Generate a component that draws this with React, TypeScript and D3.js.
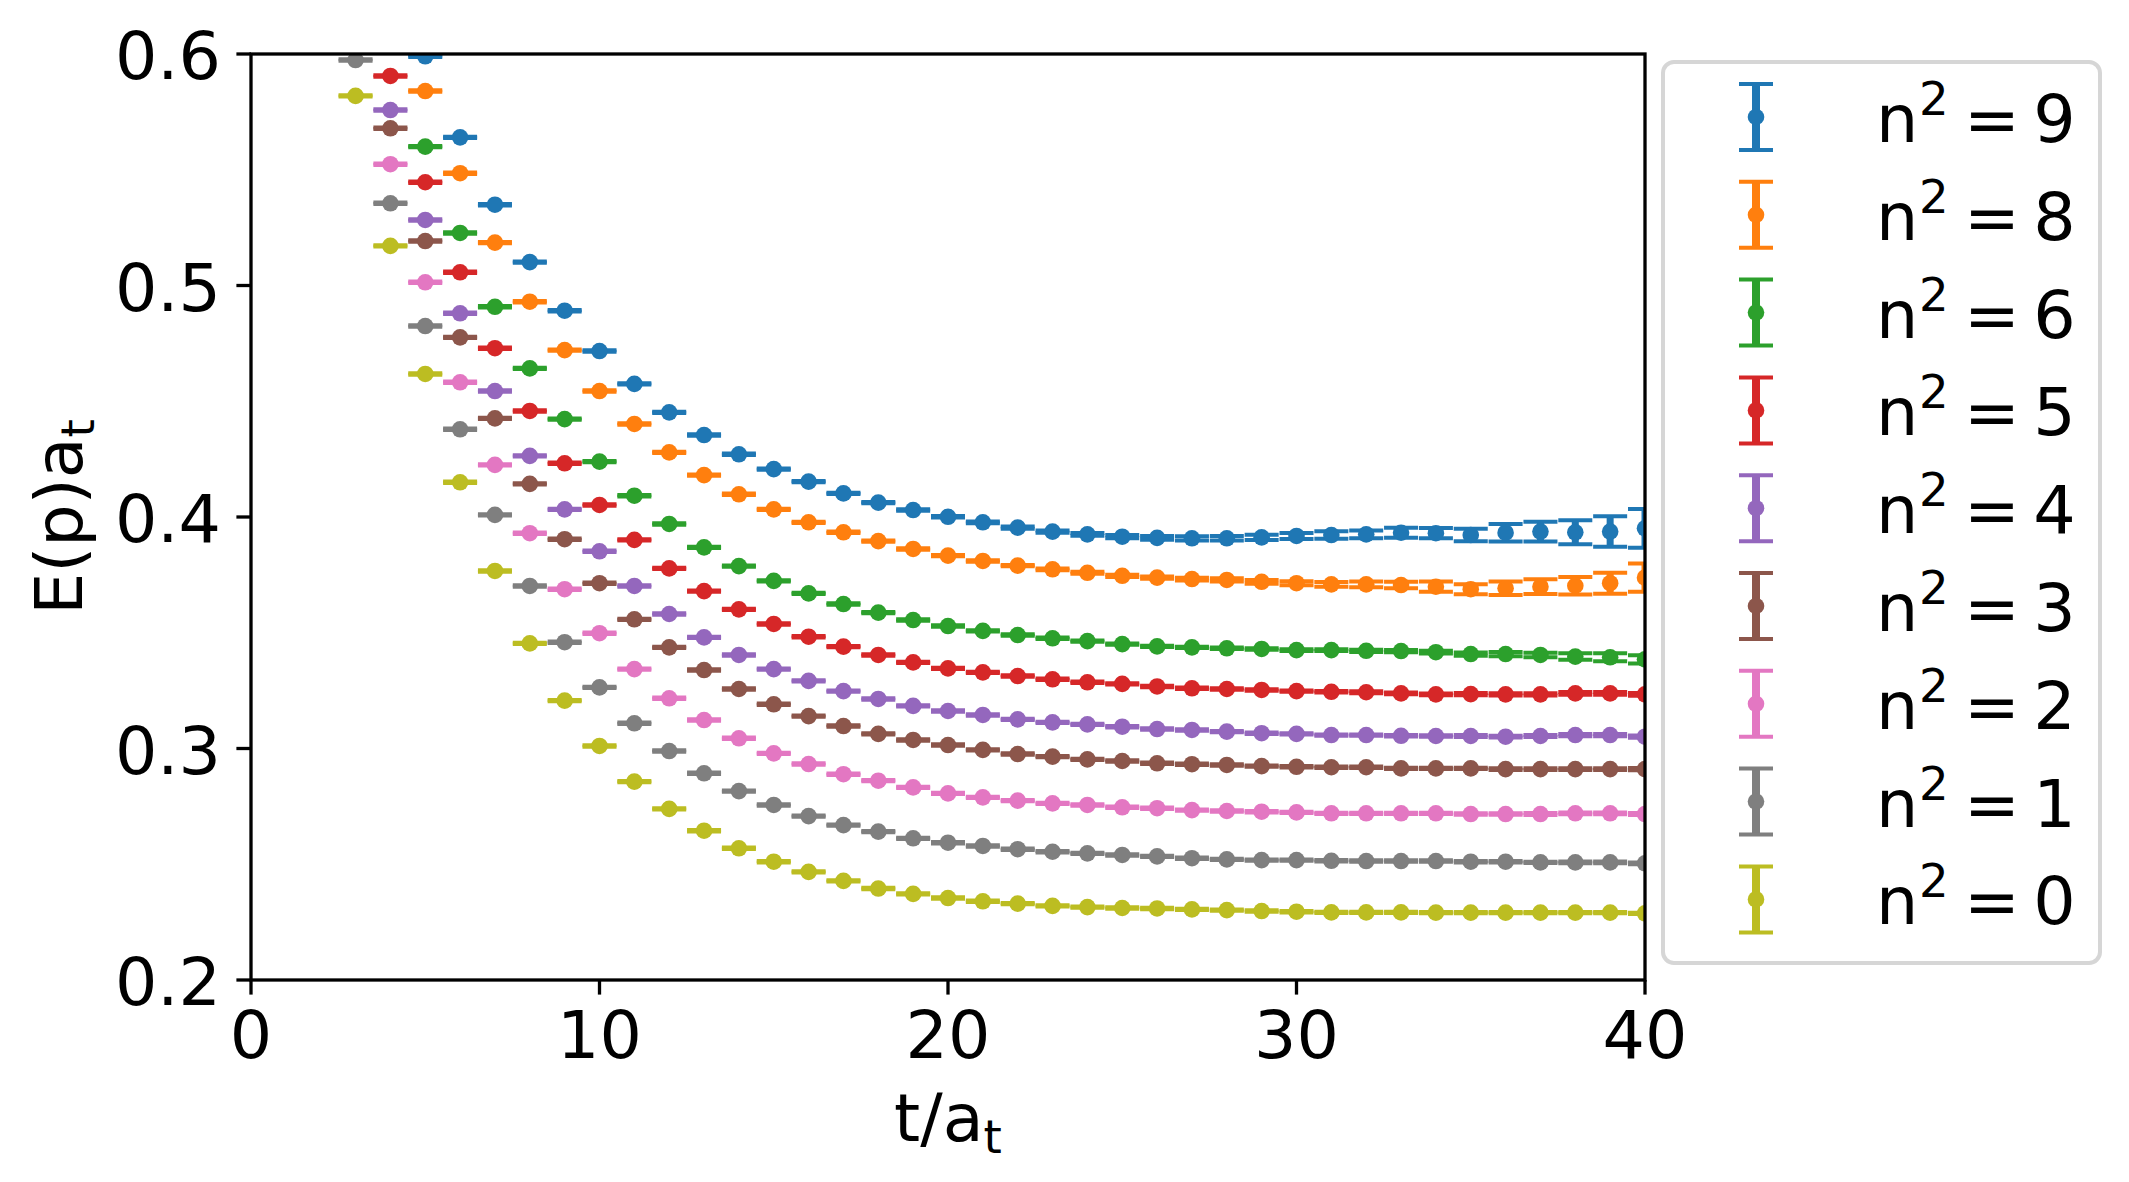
import React from 'react';
import * as d3 from 'd3';

const WIDTH = 2129;
const HEIGHT = 1182;

// legend order, n^2 values
const labels = ['9', '8', '6', '5', '4', '3', '2', '1', '0'];
const colors = ['#1f77b4', '#ff7f0e', '#2ca02c', '#d62728', '#9467bd', '#8c564b', '#e377c2', '#7f7f7f', '#bcbd22'];
// first visible time slice of each series
const firstT = [5, 5, 5, 4, 4, 4, 4, 3, 3];

const n9 = [
  0.599, 0.564, 0.5349, 0.5101, 0.4891, 0.4717, 0.4575, 0.4452, 0.4354, 0.4271,
  0.4207, 0.4153, 0.4102, 0.4062, 0.403, 0.4001, 0.3977, 0.3954, 0.3937, 0.3925,
  0.3915, 0.391, 0.3908, 0.3908, 0.3912, 0.3918, 0.3922, 0.3925, 0.3932, 0.393,
  0.3922, 0.3932, 0.3937, 0.3934, 0.3937, 0.3951,
];
const n9Err = [
  0.0003, 0.0003, 0.0003, 0.0003, 0.0003, 0.0003, 0.0003, 0.0003, 0.0003, 0.0003,
  0.0003, 0.0003, 0.0003, 0.0003, 0.0003, 0.0003, 0.0004, 0.0005, 0.0005, 0.0006,
  0.0007, 0.0008, 0.0009, 0.001, 0.0011, 0.0013, 0.0016, 0.0017, 0.0022, 0.0022,
  0.0027, 0.0038, 0.0043, 0.0052, 0.0066, 0.0084,
];

const n8 = [
  0.584, 0.5485, 0.5185, 0.493, 0.4721, 0.4544, 0.4402, 0.4279, 0.4181, 0.4098,
  0.4033, 0.3977, 0.3934, 0.3896, 0.3862, 0.3833, 0.381, 0.379, 0.3774, 0.3759,
  0.3746, 0.3738, 0.3732, 0.3728, 0.372, 0.3714, 0.3709, 0.3709, 0.3706, 0.3699,
  0.3688, 0.3692, 0.3699, 0.3703, 0.3714, 0.3738,
];
const n8Err = [
  0.0003, 0.0003, 0.0003, 0.0003, 0.0003, 0.0003, 0.0003, 0.0003, 0.0003, 0.0003,
  0.0003, 0.0003, 0.0003, 0.0003, 0.0003, 0.0003, 0.0003, 0.0003, 0.0004, 0.0004,
  0.0005, 0.0005, 0.0006, 0.0007, 0.0008, 0.0009, 0.001, 0.0012, 0.0014, 0.0022,
  0.0022, 0.0029, 0.0032, 0.0038, 0.0045, 0.0061,
];

const n6 = [
  0.56, 0.5227, 0.4908, 0.4642, 0.4423, 0.4239, 0.4092, 0.397, 0.3869, 0.3788,
  0.3724, 0.367, 0.3624, 0.3587, 0.3555, 0.3529, 0.3508, 0.349, 0.3476, 0.3464,
  0.3451, 0.3441, 0.3437, 0.3433, 0.343, 0.3425, 0.3425, 0.3422, 0.3421, 0.3416,
  0.3408, 0.3408, 0.3404, 0.3397, 0.3394, 0.3385,
];
const n6Err = [
  0.0003, 0.0003, 0.0003, 0.0003, 0.0003, 0.0003, 0.0003, 0.0003, 0.0003, 0.0003,
  0.0003, 0.0003, 0.0003, 0.0003, 0.0003, 0.0003, 0.0003, 0.0003, 0.0003, 0.0003,
  0.0003, 0.0003, 0.0003, 0.0003, 0.0003, 0.0004, 0.0004, 0.0005, 0.0005, 0.0006,
  0.0007, 0.0009, 0.001, 0.0014, 0.0017, 0.0018,
];

const n5 = [
  0.5905, 0.5446, 0.5057, 0.4729, 0.4458, 0.4232, 0.4052, 0.3901, 0.3778, 0.368,
  0.3601, 0.3538, 0.3483, 0.344, 0.3404, 0.3372, 0.3346, 0.3329, 0.3313, 0.3299,
  0.3286, 0.3279, 0.3268, 0.326, 0.3257, 0.3253, 0.3248, 0.3245, 0.3243, 0.3238,
  0.3234, 0.3235, 0.3234, 0.3234, 0.3238, 0.3238, 0.3234,
];
const n5Err = [
  0.0003, 0.0003, 0.0003, 0.0003, 0.0003, 0.0003, 0.0003, 0.0003, 0.0003, 0.0003,
  0.0003, 0.0003, 0.0003, 0.0003, 0.0003, 0.0003, 0.0003, 0.0003, 0.0003, 0.0003,
  0.0003, 0.0003, 0.0003, 0.0003, 0.0003, 0.0003, 0.0003, 0.0003, 0.0004, 0.0004,
  0.0004, 0.0005, 0.0005, 0.0005, 0.0006, 0.0006, 0.0006,
];

const n4 = [
  0.5758, 0.5283, 0.488, 0.4544, 0.4264, 0.4033, 0.3852, 0.3702, 0.3581, 0.348,
  0.3404, 0.3343, 0.3292, 0.3248, 0.3214, 0.3184, 0.3162, 0.3145, 0.3126, 0.3113,
  0.3104, 0.3094, 0.3084, 0.308, 0.3073, 0.3066, 0.3063, 0.3058, 0.3058, 0.3055,
  0.3054, 0.3054, 0.3051, 0.3054, 0.3058, 0.3058, 0.3051,
];
const n4Err = [
  0.0003, 0.0003, 0.0003, 0.0003, 0.0003, 0.0003, 0.0003, 0.0003, 0.0003, 0.0003,
  0.0003, 0.0003, 0.0003, 0.0003, 0.0003, 0.0003, 0.0003, 0.0003, 0.0003, 0.0003,
  0.0003, 0.0003, 0.0003, 0.0003, 0.0003, 0.0003, 0.0003, 0.0003, 0.0003, 0.0003,
  0.0003, 0.0004, 0.0004, 0.0004, 0.0005, 0.0005, 0.0005,
];

const n3 = [
  0.5679, 0.5192, 0.4776, 0.4426, 0.4143, 0.3904, 0.3714, 0.3558, 0.3437, 0.3339,
  0.3257, 0.3191, 0.314, 0.3097, 0.3063, 0.3037, 0.3015, 0.2994, 0.2976, 0.2965,
  0.2953, 0.2946, 0.2936, 0.2932, 0.2929, 0.2924, 0.2921, 0.2919, 0.2919, 0.2914,
  0.2914, 0.2914, 0.2911, 0.2911, 0.2911, 0.2911, 0.2911,
];
const n3Err = [
  0.0003, 0.0003, 0.0003, 0.0003, 0.0003, 0.0003, 0.0003, 0.0003, 0.0003, 0.0003,
  0.0003, 0.0003, 0.0003, 0.0003, 0.0003, 0.0003, 0.0003, 0.0003, 0.0003, 0.0003,
  0.0003, 0.0003, 0.0003, 0.0003, 0.0003, 0.0003, 0.0003, 0.0003, 0.0003, 0.0003,
  0.0003, 0.0003, 0.0004, 0.0004, 0.0004, 0.0004, 0.0005,
];

const n2 = [
  0.5524, 0.5014, 0.4582, 0.4225, 0.393, 0.3688, 0.3498, 0.3343, 0.3217, 0.3123,
  0.3044, 0.2979, 0.2933, 0.2889, 0.2861, 0.2832, 0.2806, 0.2789, 0.2775, 0.2763,
  0.2756, 0.2746, 0.2742, 0.2734, 0.273, 0.2727, 0.2724, 0.272, 0.272, 0.272,
  0.272, 0.2717, 0.2717, 0.2717, 0.272, 0.272, 0.2717,
];
const n2Err = [
  0.0003, 0.0003, 0.0003, 0.0003, 0.0003, 0.0003, 0.0003, 0.0003, 0.0003, 0.0003,
  0.0003, 0.0003, 0.0003, 0.0003, 0.0003, 0.0003, 0.0003, 0.0003, 0.0003, 0.0003,
  0.0003, 0.0003, 0.0003, 0.0003, 0.0003, 0.0003, 0.0003, 0.0003, 0.0003, 0.0003,
  0.0003, 0.0003, 0.0003, 0.0004, 0.0004, 0.0004, 0.0004,
];

const n1 = [
  0.5974, 0.5355, 0.4825, 0.4379, 0.4009, 0.3702, 0.3459, 0.3264, 0.3109, 0.2989,
  0.2893, 0.2816, 0.2756, 0.2708, 0.2669, 0.2641, 0.2612, 0.2593, 0.2579, 0.2565,
  0.2554, 0.2547, 0.254, 0.2534, 0.2526, 0.2521, 0.2518, 0.2518, 0.2515, 0.2514,
  0.2514, 0.2514, 0.2511, 0.2511, 0.2508, 0.2508, 0.2508, 0.2504,
];
const n1Err = [
  0.0003, 0.0003, 0.0003, 0.0003, 0.0003, 0.0003, 0.0003, 0.0003, 0.0003, 0.0003,
  0.0003, 0.0003, 0.0003, 0.0003, 0.0003, 0.0003, 0.0003, 0.0003, 0.0003, 0.0003,
  0.0003, 0.0003, 0.0003, 0.0003, 0.0003, 0.0003, 0.0003, 0.0003, 0.0003, 0.0003,
  0.0003, 0.0003, 0.0003, 0.0003, 0.0003, 0.0004, 0.0004, 0.0004,
];

const n0 = [
  0.5819, 0.5171, 0.4618, 0.415, 0.3767, 0.3454, 0.3207, 0.3011, 0.2857, 0.2739,
  0.2645, 0.2569, 0.2511, 0.2467, 0.2428, 0.2395, 0.2372, 0.2354, 0.234, 0.233,
  0.232, 0.2315, 0.2311, 0.2309, 0.2305, 0.2302, 0.2298, 0.2295, 0.2292, 0.2292,
  0.2292, 0.2291, 0.2291, 0.2291, 0.2291, 0.2291, 0.2291, 0.2288,
];
const n0Err = [
  0.0003, 0.0003, 0.0003, 0.0003, 0.0003, 0.0003, 0.0003, 0.0003, 0.0003, 0.0003,
  0.0003, 0.0003, 0.0003, 0.0003, 0.0003, 0.0003, 0.0003, 0.0003, 0.0003, 0.0003,
  0.0003, 0.0003, 0.0003, 0.0003, 0.0003, 0.0003, 0.0003, 0.0003, 0.0003, 0.0003,
  0.0003, 0.0003, 0.0003, 0.0003, 0.0003, 0.0003, 0.0003, 0.0003,
];

const seriesValues = [n9, n8, n6, n5, n4, n3, n2, n1, n0];
const seriesErrors = [n9Err, n8Err, n6Err, n5Err, n4Err, n3Err, n2Err, n1Err, n0Err];

const xTicks = [0, 10, 20, 30, 40];
const yTicks = [0.2, 0.3, 0.4, 0.5, 0.6];
const yTickLabels = ['0.2', '0.3', '0.4', '0.5', '0.6'];

const FONT = '"DejaVu Sans", sans-serif';
const FS = 66.7;

export default function App() {
  const left = 251, right = 1645, top = 54, bottom = 980;
  const x = d3.scaleLinear().domain([0, 40]).range([left, right]);
  const y = d3.scaleLinear().domain([0.2, 0.6]).range([bottom, top]);

  const capHalf = 17;
  const markerR = 8.3;

  const legendX = 1663, legendY = 62, legendW = 437, legendH = 901;
  const entryY0 = 117, entryStep = 97.8;

  return (
    <div>
      <style>{`body{margin:0;background:#fff}`}</style>
      <svg width={WIDTH} height={HEIGHT} viewBox={`0 0 ${WIDTH} ${HEIGHT}`} style={{ display: 'block' }}>
        <rect x={0} y={0} width={WIDTH} height={HEIGHT} fill="#fff" />
        <defs>
          <clipPath id="plotArea">
            <rect x={left} y={top} width={right - left} height={bottom - top} />
          </clipPath>
        </defs>

        {/* error bar series */}
        <g clipPath="url(#plotArea)">
          {seriesValues.map((vals, s) => (
            <g key={s}>
              {vals.map((v, i) => {
                const t = firstT[s] + i;
                const e = seriesErrors[s][i];
                const cx = x(t);
                const yHi = y(v + e);
                const yLo = y(v - e);
                return (
                  <g key={i}>
                    <line x1={cx} x2={cx} y1={yHi} y2={yLo} stroke={colors[s]} strokeWidth={7} />
                    <line x1={cx - capHalf} x2={cx + capHalf} y1={yHi} y2={yHi} stroke={colors[s]} strokeWidth={4} />
                    <line x1={cx - capHalf} x2={cx + capHalf} y1={yLo} y2={yLo} stroke={colors[s]} strokeWidth={4} />
                    <circle cx={cx} cy={y(v)} r={markerR} fill={colors[s]} />
                  </g>
                );
              })}
            </g>
          ))}
        </g>

        {/* spines */}
        <rect x={left} y={top} width={right - left} height={bottom - top} fill="none" stroke="#000" strokeWidth={3.3} />

        {/* x axis */}
        {xTicks.map((t) => (
          <g key={t}>
            <line x1={x(t)} x2={x(t)} y1={bottom} y2={bottom + 14.6} stroke="#000" strokeWidth={3.3} />
            <text x={x(t)} y={1058} textAnchor="middle" fontFamily={FONT} fontSize={FS} fill="#000">{t}</text>
          </g>
        ))}

        {/* y axis */}
        {yTicks.map((v, i) => (
          <g key={v}>
            <line x1={left - 14.6} x2={left} y1={y(v)} y2={y(v)} stroke="#000" strokeWidth={3.3} />
            <text x={221} y={y(v) + 25} textAnchor="end" fontFamily={FONT} fontSize={FS} fill="#000">{yTickLabels[i]}</text>
          </g>
        ))}

        {/* axis labels */}
        <text x={(left + right) / 2} y={1141} textAnchor="middle" fontFamily={FONT} fontSize={FS} fill="#000">
          t/a<tspan fontSize={FS * 0.7} dy={12}>t</tspan>
        </text>
        <text transform="rotate(-90)" x={-(top + bottom) / 2} y={82} textAnchor="middle" fontFamily={FONT} fontSize={FS} fill="#000">
          E(p)a<tspan fontSize={FS * 0.7} dy={12}>t</tspan>
        </text>

        {/* legend */}
        <rect x={legendX} y={legendY} width={legendW} height={legendH} rx={11} ry={11} fill="#fff" fillOpacity={0.8} stroke="#d6d6d6" strokeWidth={4} />
        {labels.map((lab, i) => {
          const cy = entryY0 + i * entryStep;
          const hx = 1756;
          const base = cy + 25;
          return (
            <g key={lab}>
              <line x1={hx} x2={hx} y1={cy - 33} y2={cy + 33} stroke={colors[i]} strokeWidth={8} />
              <line x1={hx - capHalf} x2={hx + capHalf} y1={cy - 33} y2={cy - 33} stroke={colors[i]} strokeWidth={4} />
              <line x1={hx - capHalf} x2={hx + capHalf} y1={cy + 33} y2={cy + 33} stroke={colors[i]} strokeWidth={4} />
              <circle cx={hx} cy={cy} r={markerR} fill={colors[i]} />
              <text x={1876} y={base} fontFamily={FONT} fontSize={FS} fill="#000">n</text>
              <text x={1919} y={base - 27} fontFamily={FONT} fontSize={FS * 0.7} fill="#000">2</text>
              <text x={1992} y={base} textAnchor="middle" fontFamily={FONT} fontSize={FS} fill="#000">=</text>
              <text x={2054.5} y={base} textAnchor="middle" fontFamily={FONT} fontSize={FS} fill="#000">{lab}</text>
            </g>
          );
        })}
      </svg>
    </div>
  );
}
